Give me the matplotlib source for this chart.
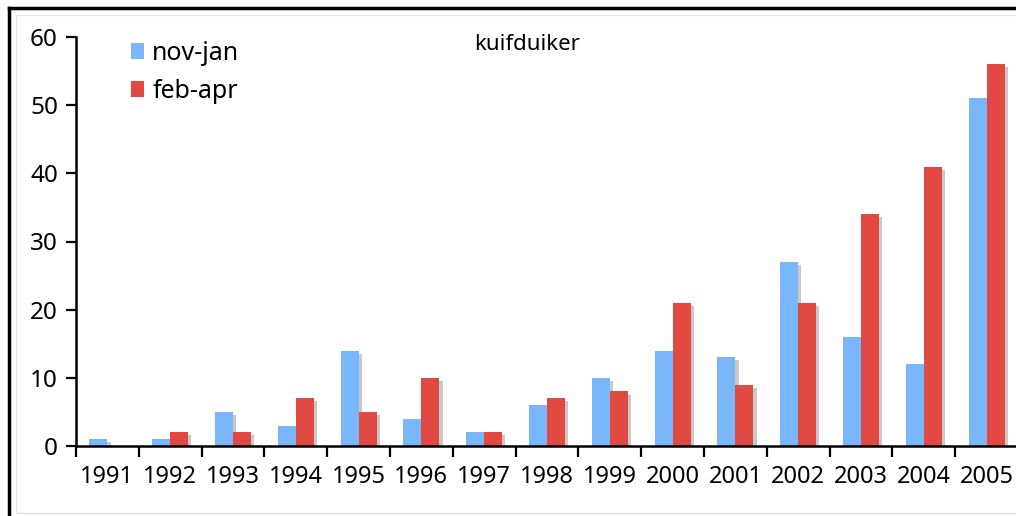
import numpy as np
import matplotlib
matplotlib.use('Agg')
import matplotlib.pyplot as plt
from matplotlib.patches import Patch
from matplotlib.lines import Line2D

years = ['1991', '1992', '1993', '1994', '1995', '1996', '1997', '1998',
         '1999', '2000', '2001', '2002', '2003', '2004', '2005']
nov_jan = [1, 1, 5, 3, 14, 4, 2, 6, 10, 14, 13, 27, 16, 12, 51]
feb_apr = [0, 2, 2, 7, 5, 10, 2, 7, 8, 21, 9, 21, 34, 41, 56]

blue = '#7ab6fa'
red = '#e14a42'
shade = '#c9c9c9'

plt.rcParams['font.family'] = ['Noto Sans', 'DejaVu Sans']

fig = plt.figure(figsize=(10.16, 5.16), dpi=100)
W, H = 1016, 516
ax = fig.add_axes([76 / W, 70 / H, 942 / W, 409 / H])

x = np.arange(len(years))
w = 0.287
dx, dy = 0.05, 0.45  # drop shadow offset (data units)

# shadows first, then the bars on top
for vals, off in [(nov_jan, -w / 2), (feb_apr, w / 2)]:
    v = np.array(vals, dtype=float)
    sh = np.clip(v - dy, 0, None)
    ax.bar(x + off + dx, sh, width=w, color=shade, linewidth=0, zorder=1)

ax.bar(x - w / 2, nov_jan, width=w, color=blue, linewidth=0, zorder=2)
ax.bar(x + w / 2, feb_apr, width=w, color=red, linewidth=0, zorder=2)

ax.set_xlim(-0.5, len(years) - 0.5)
ax.set_ylim(0, 60)
ax.set_yticks(range(0, 61, 10))
ax.set_xticks(x)
ax.set_xticklabels(years)
ax.set_xticks(np.arange(-0.5, len(years), 1.0), minor=True)
ax.tick_params(axis='x', which='major', length=0, pad=14, labelsize=17)
ax.tick_params(axis='x', which='minor', length=8, width=1.6, direction='out')
ax.tick_params(axis='y', length=7, width=1.6, direction='out', pad=6, labelsize=17.5)

for s in ['top', 'right']:
    ax.spines[s].set_visible(False)
for s in ['left', 'bottom']:
    ax.spines[s].set_linewidth(1.8)
ax.spines['bottom'].set_zorder(3)

fig.text(527 / W, 1 - 44 / H, 'kuifduiker', ha='center', va='center', fontsize=16)

handles = [Patch(facecolor=blue, edgecolor='none', label='nov-jan'),
           Patch(facecolor=red, edgecolor='none', label='feb-apr')]
fig.legend(handles=handles, loc='upper left', bbox_to_anchor=(131 / W, 1 - 41 / H),
           frameon=False, fontsize=18, handlelength=0.5, handleheight=0.6,
           handletextpad=0.35, labelspacing=0.52, borderaxespad=0, borderpad=0)

# page frame around the chart
fig.add_artist(Line2D([9 / W, 9 / W], [0, 1 - 8 / H], color='black', lw=2.5,
                      transform=fig.transFigure))
fig.add_artist(Line2D([9 / W, 1], [1 - 8 / H, 1 - 8 / H], color='black', lw=2.5,
                      transform=fig.transFigure))
fig.add_artist(Line2D([16 / W, 16 / W], [3 / H, 1 - 15 / H], color='#e6e6e6', lw=1,
                      transform=fig.transFigure))
fig.add_artist(Line2D([16 / W, 1], [1 - 15 / H, 1 - 15 / H], color='#e6e6e6', lw=1,
                      transform=fig.transFigure))
fig.add_artist(Line2D([16 / W, 1], [3 / H, 3 / H], color='#e0e0e0', lw=1,
                      transform=fig.transFigure))

fig.savefig('out.png', dpi=100)
